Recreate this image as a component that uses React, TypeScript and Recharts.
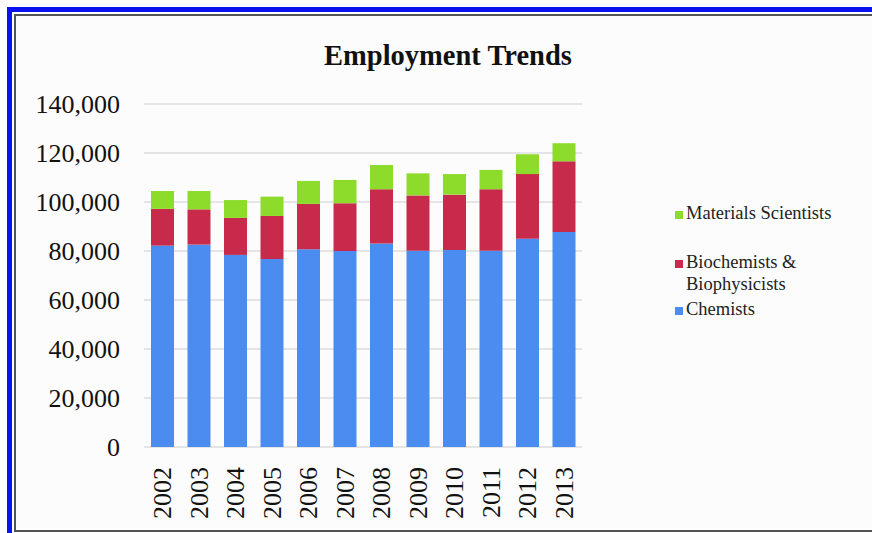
import { BarChart, Bar, CartesianGrid, XAxis, YAxis } from "recharts";

// Values
const years = ["2002", "2003", "2004", "2005", "2006", "2007", "2008", "2009", "2010", "2011", "2012", "2013"];
const chemists = [82200, 82600, 78400, 76700, 80700, 80000, 83100, 80100, 80400, 80100, 85000, 87800];
const biochemists = [15000, 14400, 15100, 17600, 18500, 19500, 22100, 22600, 22600, 25100, 26400, 28800];
const materials = [7300, 7500, 7300, 7900, 9400, 9500, 9900, 9000, 8400, 7900, 8100, 7400];
const yTicks = [0, 20000, 40000, 60000, 80000, 100000, 120000, 140000];

const SERIES = [
  { key: "materials", name: "Materials Scientists", color: "#8ddc2c" },
  { key: "biochemists", name: "Biochemists &\nBiophysicists", color: "#c82a4c" },
  { key: "chemists", name: "Chemists", color: "#4a8cf0" },
];

const FONT = "'Liberation Serif', 'Times New Roman', serif";

const data = years.map((year, i) => ({
  year,
  chemists: chemists[i],
  biochemists: biochemists[i],
  materials: materials[i],
}));

function YearTick({ x, y, payload }: any) {
  return (
    <text
      x={x}
      y={y}
      transform={`rotate(-90, ${x}, ${y})`}
      dy="0.35em"
      textAnchor="end"
      fontFamily={FONT}
      fontSize={26}
      fill="#111"
    >
      {payload.value}
    </text>
  );
}

// legend rows: top position of each entry
const legendTops = [202, 251, 298];

export default function App() {
  return (
    <div style={{ position: "absolute", left: 0, top: 0, width: 872, height: 533, overflow: "hidden", background: "#fff" }}>
      {/* blue outer frame */}
      <div
        style={{
          position: "absolute",
          left: 7,
          top: 7,
          width: 880,
          height: 540,
          borderTop: "5px solid #0a12f0",
          borderLeft: "5px solid #0a12f0",
        }}
      />
      {/* gray inner frame */}
      <div
        style={{
          position: "absolute",
          left: 14,
          top: 14,
          width: 870,
          height: 514,
          borderTop: "2px solid #555",
          borderLeft: "2px solid #555",
          borderBottom: "2px solid #555",
          background: "#fcfcfc",
        }}
      />
      <div
        style={{
          position: "absolute",
          left: 448,
          top: 40,
          transform: "translateX(-50%)",
          fontFamily: FONT,
          fontWeight: "bold",
          fontSize: 28.5,
          whiteSpace: "nowrap",
          color: "#111",
        }}
      >
        Employment Trends
      </div>
      <div style={{ position: "absolute", left: 0, top: 0 }}>
        <BarChart
          width={872}
          height={533}
          data={data}
          margin={{ top: 104, right: 290, bottom: 6, left: 0 }}
        >
          <CartesianGrid vertical={false} stroke="#dedede" strokeWidth={1.5} />
          <XAxis
            dataKey="year"
            height={80}
            axisLine={false}
            tickLine={false}
            tick={<YearTick />}
            tickMargin={14}
            interval={0}
          />
          <YAxis
            width={144}
            domain={[0, 140000]}
            ticks={yTicks}
            axisLine={false}
            tickLine={false}
            tickSize={0}
            tickMargin={24}
            tickFormatter={(v: number) => v.toLocaleString("en-US")}
            tick={{ fontFamily: FONT, fontSize: 26, fill: "#111" }}
          />
          <Bar dataKey="chemists" stackId="a" fill="#4a8cf0" barSize={23} isAnimationActive={false} />
          <Bar dataKey="biochemists" stackId="a" fill="#c82a4c" barSize={23} isAnimationActive={false} />
          <Bar dataKey="materials" stackId="a" fill="#8ddc2c" barSize={23} isAnimationActive={false} />
        </BarChart>
      </div>
      {SERIES.map((s, i) => (
        <div
          key={s.key}
          style={{
            position: "absolute",
            left: 675,
            top: legendTops[i],
            display: "flex",
            alignItems: "flex-start",
            fontFamily: FONT,
            fontSize: 18.5,
            lineHeight: "22px",
            color: "#222",
            whiteSpace: "pre",
          }}
        >
          <span style={{ width: 8, height: 8, background: s.color, marginTop: 9, marginRight: 3, flexShrink: 0 }} />
          <span>{s.name}</span>
        </div>
      ))}
    </div>
  );
}
